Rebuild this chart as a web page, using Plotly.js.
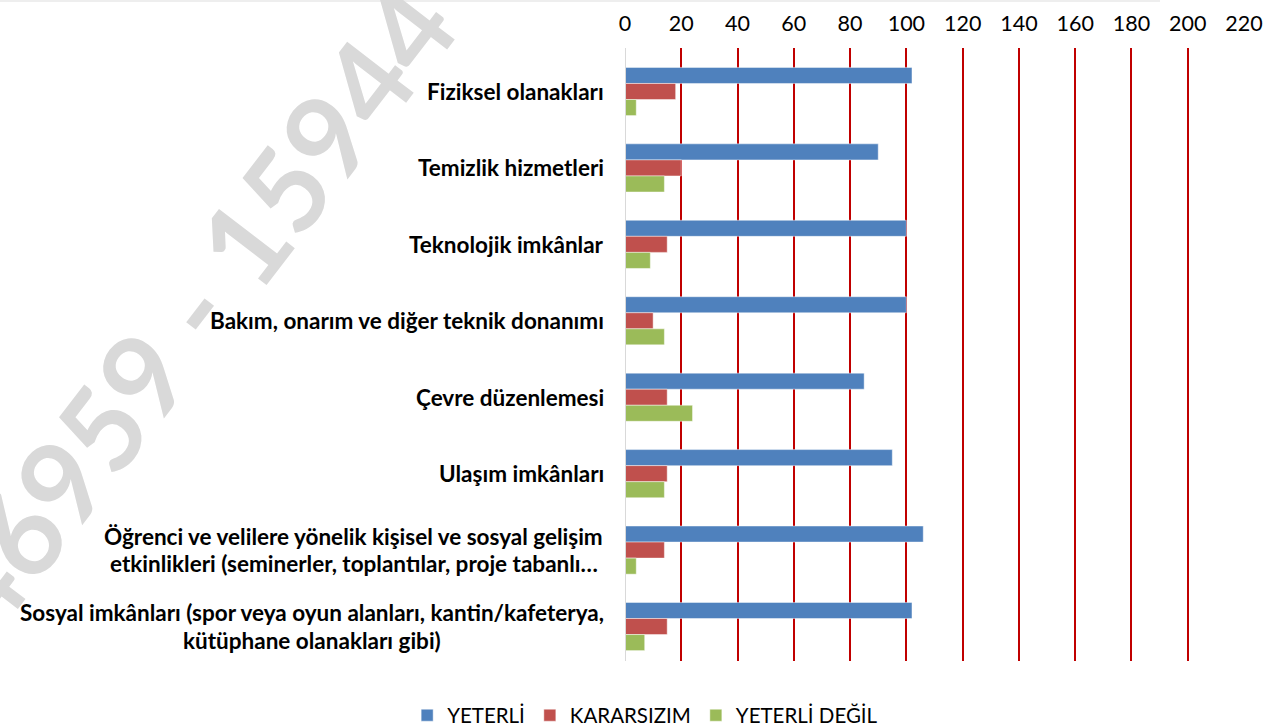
<!DOCTYPE html>
<html>
<head>
<meta charset="utf-8">
<script src="https://cdn.plot.ly/plotly-3.0.1.min.js"></script>
<style>html,body{margin:0;padding:0;background:#fff;}#chart{width:1275px;height:727px;}</style>
</head>
<body>
<div id="chart"></div>
<script>
const categories = [
  "Fiziksel olanakları",
  "Temizlik hizmetleri",
  "Teknolojik imkânlar",
  "Bakım, onarım ve diğer teknik donanımı",
  "Çevre düzenlemesi",
  "Ulaşım imkânları",
  "Öğrenci ve velilere yönelik kişisel ve sosyal gelişim<br>etkinlikleri (seminerler, toplantılar, proje tabanlı…",
  "Sosyal imkânları (spor veya oyun alanları, kantin/kafeterya,<br>kütüphane olanakları gibi)"
];
const seriesNames = ["YETERLİ", "KARARSIZIM", "YETERLİ DEĞİL"];
const yeterli = [102, 90, 100, 100, 85, 95, 106, 102];
const kararsizim = [18, 20, 15, 10, 15, 15, 14, 15];
const yeterliDegil = [4, 14, 9, 14, 24, 14, 4, 7];
const xTicks = [0, 20, 40, 60, 80, 100, 120, 140, 160, 180, 200, 220];
const watermark = "46959 - 15944";

const colors = ["#4F81BD", "#C0504D", "#9BBB59"];
const values = [yeterli, kararsizim, yeterliDegil];

const data = values.map((v, i) => ({
  type: "bar",
  orientation: "h",
  name: seriesNames[i],
  x: v,
  y: categories,
  marker: {color: colors[i], line: {color: "rgba(255,255,255,0.45)", width: 1}},
  hoverinfo: "x+name"
}));

const W = 1275, H = 727;
const M = {l: 625, r: 31, t: 48, b: 66};
const plotW = W - M.l - M.r, plotH = H - M.t - M.b;
const px2x = p => (p - M.l) / plotW;
const px2y = p => (H - M.b - p) / plotH;

const FONT = "Lato, 'Open Sans', sans-serif";
const LABEL_SIZE = 22.5;
const labelFont = {family: FONT, size: LABEL_SIZE, color: "#000", weight: 700};

const ctx = document.createElement("canvas").getContext("2d");
ctx.font = "bold " + LABEL_SIZE + "px Lato";

const annotations = [];
annotations.push({
  xref: "paper", yref: "paper",
  x: px2x(192), y: px2y(308),
  xanchor: "center", yanchor: "middle",
  text: "<b>" + watermark + "</b>",
  textangle: -52.5,
  showarrow: false,
  font: {family: FONT, size: 116, color: "#D9D9D9"}
});

const RIGHT_PX = 604;
const LINE_H = 27.5;
categories.forEach(c => {
  const lines = c.split("<br>");
  if (lines.length === 1) {
    annotations.push({
      xref: "paper", yref: "y",
      x: px2x(RIGHT_PX + 2), y: c,
      xanchor: "right", yanchor: "middle",
      text: "<b>" + c + "</b>",
      showarrow: false,
      font: labelFont
    });
  } else {
    const w = Math.max(...lines.map(l => ctx.measureText(l).width));
    const cx = RIGHT_PX - w / 2;
    lines.forEach((l, i) => {
      annotations.push({
        xref: "paper", yref: "y",
        x: px2x(cx), y: c,
        xanchor: "center", yanchor: "middle",
        yshift: ((lines.length - 1) / 2 - i) * LINE_H,
        text: "<b>" + l + "</b>",
        showarrow: false,
        font: labelFont
      });
    });
  }
});

const layout = {
  width: W, height: H,
  margin: {l: M.l, r: M.r, t: M.t, b: M.b, autoexpand: false},
  paper_bgcolor: "#fff", plot_bgcolor: "#fff",
  barmode: "group",
  bargap: 0.37,
  bargroupgap: 0,
  font: {family: FONT, size: 21, color: "#000"},
  xaxis: {
    side: "top",
    range: [0, 220],
    tickvals: xTicks,
    ticktext: xTicks.map(String),
    showgrid: true,
    gridcolor: "#C00000",
    gridwidth: 2,
    zeroline: false,
    showline: false,
    ticks: "",
    ticklabelstandoff: 12,
    tickfont: {family: FONT, size: 21.5, color: "#000"},
    fixedrange: true
  },
  yaxis: {
    type: "category",
    categoryarray: categories,
    range: [7.451, -0.569],
    showticklabels: false,
    showgrid: false,
    zeroline: false,
    showline: false,
    ticks: "",
    fixedrange: true
  },
  shapes: [
    {type: "line", xref: "x", yref: "paper", x0: 0, x1: 0, y0: 0, y1: 1,
     line: {color: "#D9D9D9", width: 2}},
    {type: "line", xref: "paper", yref: "paper", x0: px2x(0), x1: px2x(1160), y0: px2y(1), y1: px2y(1),
     line: {color: "#EEEEEE", width: 2}}
  ],
  legend: {
    orientation: "h",
    xref: "container", yref: "container",
    x: 0.506, xanchor: "center",
    y: 0.016, yanchor: "middle",
    font: {family: FONT, size: 20.5, color: "#000"},
    traceorder: "normal",
    itemwidth: 30
  },
  annotations: annotations,
  showlegend: true
};

Plotly.newPlot("chart", data, layout, {displayModeBar: false});
</script>
</body>
</html>
